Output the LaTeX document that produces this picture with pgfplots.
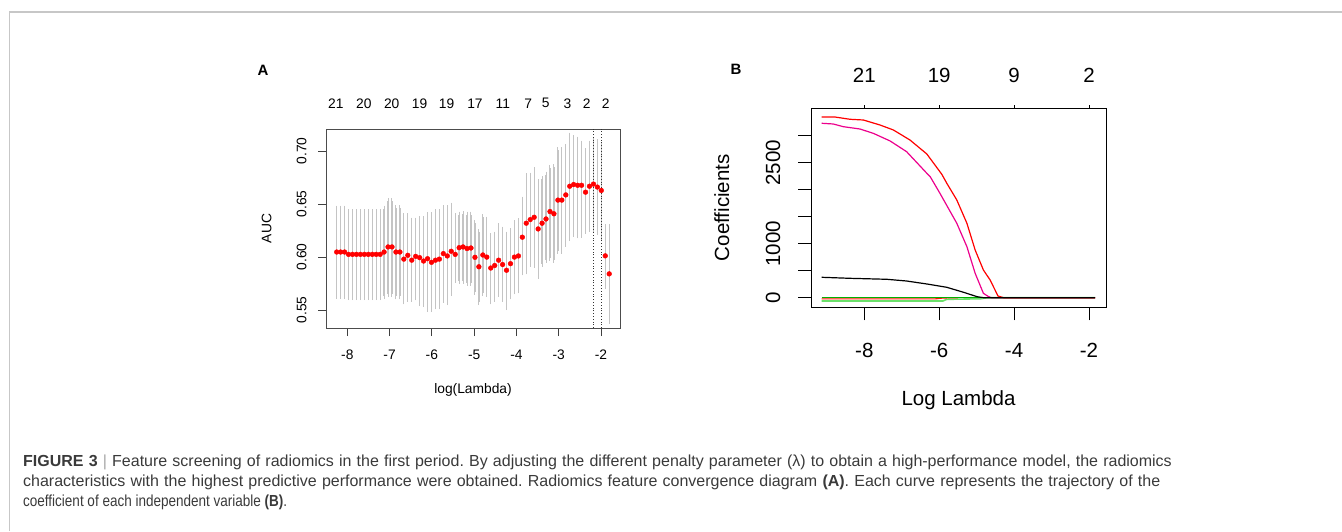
\documentclass[border=0pt]{standalone}
\usepackage{pgfplots}
\pgfplotsset{compat=1.18}
\usepackage{pgfplotstable}
\usepackage{fontspec}
\setmainfont{Liberation Sans}
\newcommand\fA{\fontsize{13.8}{15}\selectfont}
\newcommand\fB{\fontsize{20.5}{22}\selectfont}
\newcommand\fC{\fontsize{16}{18}\selectfont\frenchspacing}
\definecolor{capgray}{HTML}{3A3A3A}
\definecolor{errgray}{HTML}{C4C4C4}
\definecolor{lgreen}{HTML}{6AE06A}
\definecolor{dgreen}{HTML}{00B000}

\pgfplotstableread{
x y lo hi
-8.251 0.6047 0.5631 0.6457
-8.158 0.6047 0.5631 0.6457
-8.064 0.6047 0.5631 0.6457
-7.971 0.6025 0.5621 0.6423
-7.877 0.6025 0.5621 0.6423
-7.784 0.6025 0.5621 0.6423
-7.690 0.6025 0.5621 0.6423
-7.597 0.6025 0.5621 0.6423
-7.504 0.6025 0.5621 0.6423
-7.410 0.6025 0.5621 0.6423
-7.317 0.6025 0.5621 0.6423
-7.223 0.6025 0.5621 0.6423
-7.130 0.6047 0.5631 0.6457
-7.036 0.6095 0.5650 0.6527
-6.943 0.6095 0.5650 0.6527
-6.850 0.6047 0.5629 0.6460
-6.756 0.6047 0.5629 0.6460
-6.663 0.5980 0.5582 0.6384
-6.569 0.6016 0.5604 0.6384
-6.476 0.5970 0.5604 0.6343
-6.383 0.6006 0.5620 0.6343
-6.289 0.5994 0.5565 0.6358
-6.196 0.5962 0.5555 0.6358
-6.102 0.5984 0.5508 0.6394
-6.009 0.5950 0.5508 0.6394
-5.915 0.5970 0.5533 0.6423
-5.822 0.5980 0.5533 0.6423
-5.729 0.6032 0.5596 0.6462
-5.635 0.6010 0.5574 0.6462
-5.542 0.6054 0.5660 0.6484
-5.448 0.6025 0.5786 0.6384
-5.355 0.6088 0.5776 0.6400
-5.261 0.6095 0.5776 0.6403
-5.168 0.6080 0.5755 0.6400
-5.075 0.6085 0.5755 0.6400
-4.981 0.5997 0.5670 0.6320
-4.888 0.5908 0.5575 0.6233
-4.794 0.6019 0.5660 0.6374
-4.701 0.5999 0.5651 0.6352
-4.607 0.5896 0.5582 0.6195
-4.514 0.5920 0.5607 0.6211
-4.421 0.5970 0.5654 0.6289
-4.327 0.5929 0.5607 0.6258
-4.234 0.5875 0.5528 0.6211
-4.140 0.5937 0.5629 0.6242
-4.047 0.5999 0.5676 0.6320
-3.953 0.6010 0.5686 0.6336
-3.860 0.6187 0.5855 0.6541
-3.767 0.6319 0.5865 0.6761
-3.673 0.6353 0.5934 0.6767
-3.580 0.6375 0.5928 0.6818
-3.486 0.6265 0.5824 0.6704
-3.393 0.6319 0.5937 0.6736
-3.300 0.6359 0.5975 0.6777
-3.206 0.6429 0.5991 0.6840
-3.113 0.6408 0.5975 0.6849
-3.019 0.6537 0.6060 0.7006
-2.926 0.6537 0.6060 0.7006
-2.832 0.6586 0.6123 0.7035
-2.739 0.6668 0.6179 0.7145
-2.646 0.6684 0.6220 0.7123
-2.552 0.6677 0.6204 0.7107
-2.459 0.6677 0.6211 0.7069
-2.365 0.6612 0.6248 0.6997
-2.272 0.6668 0.6267 0.7069
-2.178 0.6688 0.6258 0.7097
-2.085 0.6660 0.6236 0.7082
-1.992 0.6628 0.6189 0.7060
-1.898 0.6011 0.5730 0.6283
-1.805 0.5841 0.5399 0.6283
}\tabA

\begin{document}
\begin{tikzpicture}
\path[use as bounding box] (0pt,0pt) rectangle (1342pt,531pt);
\draw[color=black!22, line width=1.6pt] (9.5pt,0pt) -- (9.5pt,519pt) -- (1342pt,519pt);

% ---------------- Panel A ----------------
\begin{axis}[
  at={(326pt,203pt)}, anchor=south west, scale only axis,
  width=294pt, height=199pt,
  xmin=-8.504, xmax=-1.550, ymin=0.5330, ymax=0.7208,
  xtick={-8,-7,-6,-5,-4,-3,-2}, ytick={0.55,0.60,0.65,0.70},
  xticklabel style={opacity=0}, yticklabel style={opacity=0},
  xtick pos=left, ytick pos=left,
  tick align=outside, major tick length=8pt,
  every tick/.style={black!75, line width=0.9pt},
  axis line style={black!70, line width=1pt},
  clip=false,
]
\addplot[draw=none, mark=none, forget plot,
  error bars/.cd, y dir=both, y explicit,
  error bar style={draw=errgray, line width=1.3pt},
  error mark options={draw=errgray, line width=1pt, mark size=3pt}]
  table[x=x, y=y, y error plus expr=\thisrow{hi}-\thisrow{y}, y error minus expr=\thisrow{y}-\thisrow{lo}] {\tabA};
\addplot[black!80, dotted, line width=0.8pt] coordinates {(-2.178,0.5330) (-2.178,0.7208)};
\addplot[black!80, dotted, line width=0.8pt] coordinates {(-1.992,0.5330) (-1.992,0.7208)};
\addplot[only marks, mark=*, mark size=2.4pt, color=red] table[x=x, y=y] {\tabA};
% bottom tick labels
\node[font=\fA] at ([yshift=-27pt]axis cs:-8,0.5330) {-8};
\node[font=\fA] at ([yshift=-27pt]axis cs:-7,0.5330) {-7};
\node[font=\fA] at ([yshift=-27pt]axis cs:-6,0.5330) {-6};
\node[font=\fA] at ([yshift=-27pt]axis cs:-5,0.5330) {-5};
\node[font=\fA] at ([yshift=-27pt]axis cs:-4,0.5330) {-4};
\node[font=\fA] at ([yshift=-27pt]axis cs:-3,0.5330) {-3};
\node[font=\fA] at ([yshift=-27pt]axis cs:-2,0.5330) {-2};
% left tick labels
\node[font=\fA, rotate=90] at ([xshift=-24.3pt]axis cs:-8.504,0.55) {0.55};
\node[font=\fA, rotate=90] at ([xshift=-24.3pt]axis cs:-8.504,0.60) {0.60};
\node[font=\fA, rotate=90] at ([xshift=-24.3pt]axis cs:-8.504,0.65) {0.65};
\node[font=\fA, rotate=90] at ([xshift=-24.3pt]axis cs:-8.504,0.70) {0.70};
% top labels: number of nonzero coefficients
\node[font=\fA] at ([yshift=25.7pt]axis cs:-8.27,0.7208) {21};
\node[font=\fA] at ([yshift=25.7pt]axis cs:-7.61,0.7208) {20};
\node[font=\fA] at ([yshift=25.7pt]axis cs:-6.95,0.7208) {20};
\node[font=\fA] at ([yshift=25.7pt]axis cs:-6.29,0.7208) {19};
\node[font=\fA] at ([yshift=25.7pt]axis cs:-5.65,0.7208) {19};
\node[font=\fA] at ([yshift=25.7pt]axis cs:-4.98,0.7208) {17};
\node[font=\fA] at ([yshift=25.7pt]axis cs:-4.32,0.7208) {11};
\node[font=\fA] at ([yshift=25.7pt]axis cs:-3.72,0.7208) {7};
\node[font=\fA] at ([yshift=25.7pt]axis cs:-3.31,0.7208) {5};
\node[font=\fA] at ([yshift=25.7pt]axis cs:-2.79,0.7208) {3};
\node[font=\fA] at ([yshift=25.7pt]axis cs:-2.34,0.7208) {2};
\node[font=\fA] at ([yshift=25.7pt]axis cs:-1.89,0.7208) {2};
\end{axis}
\node[font=\fA] at (473pt,141pt) {log(Lambda)};
\node[font=\fA, rotate=90] at (266.7pt,302.5pt) {AUC};
\node[font=\fontsize{15}{16}\selectfont\bfseries] at (263pt,461pt) {A};

% ---------------- Panel B ----------------
\begin{axis}[
  at={(811pt,223.7pt)}, anchor=south west, scale only axis,
  width=295pt, height=199pt,
  xmin=-9.423, xmax=-1.546, ymin=-177.8, ymax=3507.4,
  xtick={-8,-6,-4,-2}, ytick={0,500,1000,1500,2000,2500,3000},
  xticklabel style={opacity=0}, yticklabel style={opacity=0},
  xtick pos=left, ytick pos=left,
  tick align=outside, major tick length=13pt,
  every tick/.style={black, line width=1pt},
  axis line style={black, line width=1pt},
  clip=false,
]
\addplot[lgreen, line width=1.6pt] coordinates {(-9.139,-61) (-5.90,-61) (-5.80,-30) (-4.90,-20) (-4.70,0) (-1.84,0)};
\addplot[red!85!orange, line width=1.2pt] coordinates {(-9.139,-22) (-6.10,-22) (-5.90,-5) (-5.50,0)};
\addplot[dgreen, line width=1.2pt] coordinates {(-9.139,0) (-1.84,0)};
\addplot[magenta, line width=1.2pt] coordinates {(-9.139,3230) (-8.83,3217) (-8.56,3167) (-8.115,3124) (-7.76,3044) (-7.31,2902) (-6.87,2704) (-6.33,2304) (-6.24,2241) (-5.98,1933) (-5.53,1378) (-5.26,944) (-5.04,452) (-4.82,81) (-4.68,19) (-4.60,0) (-1.84,0)};
\addplot[red, line width=1.2pt] coordinates {(-9.139,3346) (-8.783,3346) (-8.382,3304) (-8.027,3291) (-7.58,3198) (-7.224,3106) (-6.78,2920) (-6.33,2661) (-5.93,2285) (-5.797,2119) (-5.53,1809) (-5.26,1378) (-5.04,883) (-4.82,513) (-4.64,328) (-4.43,31) (-4.28,0) (-1.84,0)};
\addplot[black, line width=1.2pt] coordinates {(-9.139,378) (-8.382,359) (-7.40,341) (-6.87,309) (-6.33,254) (-5.80,193) (-5.35,100) (-4.99,19) (-4.82,0) (-1.84,0)};
% top ticks
\draw[black, line width=0.8pt] (axis cs:-8,3507.4) -- ([yshift=3pt]axis cs:-8,3507.4);
\draw[black, line width=0.8pt] (axis cs:-6,3507.4) -- ([yshift=3pt]axis cs:-6,3507.4);
\draw[black, line width=0.8pt] (axis cs:-4,3507.4) -- ([yshift=3pt]axis cs:-4,3507.4);
\draw[black, line width=0.8pt] (axis cs:-2,3507.4) -- ([yshift=3pt]axis cs:-2,3507.4);
% bottom tick labels
\node[font=\fB] at ([yshift=-42.7pt]axis cs:-8,-177.8) {-8};
\node[font=\fB] at ([yshift=-42.7pt]axis cs:-6,-177.8) {-6};
\node[font=\fB] at ([yshift=-42.7pt]axis cs:-4,-177.8) {-4};
\node[font=\fB] at ([yshift=-42.7pt]axis cs:-2,-177.8) {-2};
% left tick labels
\node[font=\fB, rotate=90] at ([xshift=-38pt]axis cs:-9.423,0) {0};
\node[font=\fB, rotate=90] at ([xshift=-38pt]axis cs:-9.423,1000) {1000};
\node[font=\fB, rotate=90] at ([xshift=-38pt]axis cs:-9.423,2500) {2500};
% top labels
\node[font=\fB] at ([yshift=33.3pt]axis cs:-8,3507.4) {21};
\node[font=\fB] at ([yshift=33.3pt]axis cs:-6,3507.4) {19};
\node[font=\fB] at ([yshift=33.3pt]axis cs:-4,3507.4) {9};
\node[font=\fB] at ([yshift=33.3pt]axis cs:-2,3507.4) {2};
\end{axis}
\node[font=\fB] at (958.5pt,131pt) {Log Lambda};
\node[font=\fB, rotate=90] at (721.7pt,323.2pt) {Coefficients};
\node[font=\fontsize{15}{16}\selectfont\bfseries] at (736pt,462pt) {B};

% ---------------- Caption ----------------
\node[anchor=base west, inner sep=0pt, text=capgray] at (23pt,64.5pt) {\fC\makebox[1148.7pt][s]{\textbf{FIGURE 3} \textcolor{black!35}{|} Feature screening of radiomics in the first period. By adjusting the different penalty parameter (λ) to obtain a high-performance model, the radiomics}};
\node[anchor=base west, inner sep=0pt, text=capgray] at (23pt,44.5pt) {\fC\makebox[1137pt][s]{characteristics with the highest predictive performance were obtained. Radiomics feature convergence diagram \textbf{(A)}. Each curve represents the trajectory of the}};
\node[anchor=base west, inner sep=0pt, text=capgray] at (23pt,24.5pt) {\fC\resizebox{264pt}{\height}{coefficient of each independent variable \textbf{(B)}.}};
\end{tikzpicture}
\end{document}
